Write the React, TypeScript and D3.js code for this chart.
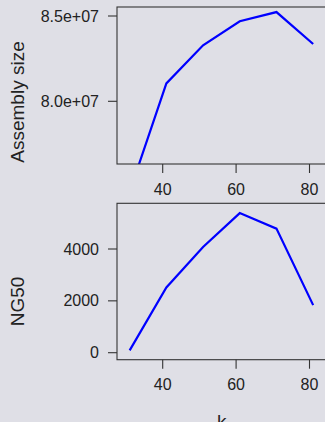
import { useEffect, useRef } from 'react';
import * as d3 from 'd3';

const kValues = [31, 41, 51, 61, 71, 81];
const assemblySize = [7.47e7, 8.105e7, 8.328e7, 8.469e7, 8.523e7, 8.336e7];
const ng50 = [90, 2515, 4077, 5385, 4785, 1835];
const xTicks = [40, 60, 80];
const sizeTicks = [8.0e7, 8.5e7];
const ng50Ticks = [0, 2000, 4000];

const W = 325;
const H = 422;
const BG = '#dfdfe6';
const FONT = '"Liberation Sans", Arial, Helvetica, sans-serif';

export default function App() {
  const svgRef = useRef<SVGSVGElement>(null);

  useEffect(() => {
    if (!svgRef.current) return;
    const svg = d3.select(svgRef.current);
    svg.selectAll('*').remove();

    svg.append('rect').attr('width', W).attr('height', H).attr('fill', BG);

    // box left edge at 117, runs past the right edge of the window
    const x = d3.scaleLinear().domain([40, 80]).range([162.7, 309.5]);
    const boxLeft = 117;
    const boxRight = 360;

    const panels = [
      {
        id: 'size', values: assemblySize, ticks: sizeTicks, top: 7, bottom: 164,
        y: d3.scaleLinear().domain([8.0e7, 8.5e7]).range([101.3, 16]),
        fmt: (v: number) => v.toExponential(1).replace('e+', 'e+0'),
        label: 'Assembly size', labelY: 102,
      },
      {
        id: 'ng50', values: ng50, ticks: ng50Ticks, top: 203.3, bottom: 359.7,
        y: d3.scaleLinear().domain([0, 4000]).range([352.7, 249]),
        fmt: (v: number) => String(v),
        label: 'NG50', labelY: 301.5,
      },
    ];

    panels.forEach(p => {
      const g = svg.append('g');
      const clipId = `clip-${p.id}`;
      svg.append('clipPath').attr('id', clipId)
        .append('rect')
        .attr('x', boxLeft).attr('y', p.top)
        .attr('width', boxRight - boxLeft).attr('height', p.bottom - p.top);

      const line = d3.line<number>()
        .x((_, i) => x(kValues[i]))
        .y(d => p.y(d));

      g.append('path')
        .datum(p.values)
        .attr('d', line)
        .attr('fill', 'none')
        .attr('stroke', '#0000ff')
        .attr('stroke-width', 2.2)
        .attr('clip-path', `url(#${clipId})`);

      g.append('rect')
        .attr('x', boxLeft).attr('y', p.top)
        .attr('width', boxRight - boxLeft).attr('height', p.bottom - p.top)
        .attr('fill', 'none').attr('stroke', '#333').attr('stroke-width', 1.1);

      // y axis
      p.ticks.forEach(t => {
        const ty = p.y(t);
        g.append('line').attr('x1', boxLeft - 9).attr('x2', boxLeft)
          .attr('y1', ty).attr('y2', ty).attr('stroke', '#333').attr('stroke-width', 1.1);
        g.append('text')
          .attr('x', boxLeft - 18).attr('y', ty).attr('dy', '0.35em')
          .attr('text-anchor', 'end').attr('font-family', FONT).attr('font-size', 16)
          .attr('fill', '#222').text(p.fmt(t));
      });

      // x axis
      xTicks.forEach(t => {
        g.append('line').attr('x1', x(t)).attr('x2', x(t))
          .attr('y1', p.bottom).attr('y2', p.bottom + 9)
          .attr('stroke', '#333').attr('stroke-width', 1.1);
        g.append('text')
          .attr('x', x(t)).attr('y', p.bottom + 25).attr('dy', '0.35em')
          .attr('text-anchor', 'middle').attr('font-family', FONT).attr('font-size', 16)
          .attr('fill', '#222').text(String(t));
      });

      g.append('text')
        .attr('transform', `translate(17,${p.labelY}) rotate(-90)`)
        .attr('dy', '0.35em')
        .attr('text-anchor', 'middle').attr('font-family', FONT).attr('font-size', 19)
        .attr('fill', '#222').text(p.label);
    });

    svg.append('text')
      .attr('x', 221.7).attr('y', 428)
      .attr('text-anchor', 'middle').attr('font-family', FONT).attr('font-size', 19)
      .attr('fill', '#222').text('k');
  }, []);

  return (
    <svg ref={svgRef} width={W} height={H}
      style={{ position: 'fixed', left: 0, top: 0, display: 'block' }} />
  );
}
